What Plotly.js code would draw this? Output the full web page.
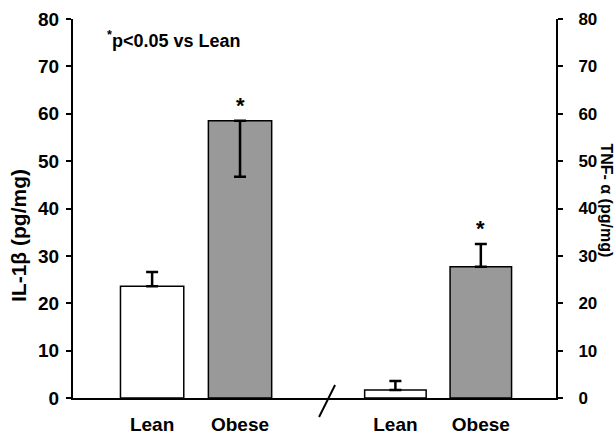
<!DOCTYPE html>
<html><head><meta charset="utf-8">
<script src="https://cdn.plot.ly/plotly-3.0.1.min.js"></script>
<style>body{margin:0;background:#fff}</style></head>
<body><div id="chart" style="width:616px;height:437px"></div>
<script>
const categories = ["Lean", "Obese"];
const il1bValues = [23.6, 58.5];
const il1bErrPlus = [3.0, 0];
const il1bErrMinus = [0, 11.8];
const tnfValues = [1.7, 27.7];
const tnfErrPlus = [1.9, 4.8];
const tnfErrMinus = [0, 0];
const significant = [false, true];
const barColors = ["#ffffff", "#999999"];
const yTickVals = [0, 10, 20, 30, 40, 50, 60, 70, 80];
const noteText = "<sup>*</sup>p&lt;0.05 vs Lean";
const leftTitle = "IL-1β (pg/mg)";
const rightTitle = "TNF- α (pg/mg)";

const FONT = "Liberation Sans, Arial, sans-serif";
const bold = (size) => ({family: FONT, size: size, color: "#000", weight: 700});

function barTrace(vals, plus, minus, xa, ya) {
  return {
    type: "bar", x: categories, y: vals, xaxis: xa, yaxis: ya, width: 0.72,
    marker: {color: barColors, line: {color: "#000", width: 1.5}},
    error_y: {type: "data", symmetric: false, array: plus, arrayminus: minus,
      color: "#000", thickness: 2.5, width: 6},
    hoverinfo: "skip", showlegend: false
  };
}

const data = [
  barTrace(il1bValues, il1bErrPlus, il1bErrMinus, "x", "y"),
  barTrace(tnfValues, tnfErrPlus, tnfErrMinus, "x2", "y2")
];

const annotations = [];
function addStars(vals, plus, xr, yr) {
  categories.forEach((c, i) => {
    if (significant[i]) annotations.push({
      x: c, y: vals[i] + plus[i], xref: xr, yref: yr, text: "*", showarrow: false,
      yanchor: "bottom", yshift: 1, font: bold(22)
    });
  });
}
addStars(il1bValues, il1bErrPlus, "x", "y");
addStars(tnfValues, tnfErrPlus, "x2", "y2");
annotations.push({x: 0.066, y: 0.945, xref: "paper", yref: "paper", xanchor: "left", yanchor: "middle",
  text: noteText, showarrow: false, font: bold(18)});
annotations.push({x: -0.114, y: 0.43, xref: "paper", yref: "paper", xanchor: "center", yanchor: "middle",
  text: leftTitle, textangle: -90, showarrow: false, font: bold(21)});
annotations.push({x: 1.105, y: 0.522, xref: "paper", yref: "paper", xanchor: "center", yanchor: "middle",
  text: rightTitle, textangle: 90, showarrow: false, font: bold(16)});

const split = 0.526;
const yAxisBase = {range: [0, 80], tickvals: yTickVals, ticks: "outside", ticklen: 5, tickwidth: 2,
  tickcolor: "#000", showline: true, linewidth: 2, linecolor: "#000", showgrid: false, zeroline: false,
  fixedrange: true};
const xAxisBase = {type: "category", showline: true, linewidth: 2, linecolor: "#000", ticks: "",
  showgrid: false, zeroline: false, tickfont: bold(19), ticklabelstandoff: 8, fixedrange: true};

const layout = {
  width: 616, height: 437, margin: {l: 73, r: 60, t: 19, b: 39},
  paper_bgcolor: "#fff", plot_bgcolor: "#fff",
  xaxis: Object.assign({}, xAxisBase, {domain: [0, split], range: [-0.9, 1.99], anchor: "y"}),
  xaxis2: Object.assign({}, xAxisBase, {domain: [split, 1], range: [-0.8, 1.88], anchor: "y2"}),
  yaxis: Object.assign({}, yAxisBase, {anchor: "x", side: "left", ticklabelstandoff: 3, tickfont: bold(19)}),
  yaxis2: Object.assign({}, yAxisBase, {anchor: "x2", side: "right", ticklabelstandoff: 12, tickfont: bold(17)}),
  annotations: annotations,
  shapes: [{type: "line", xref: "paper", yref: "paper", xsizemode: "pixel", ysizemode: "pixel",
    xanchor: split, yanchor: 0, x0: -8, x1: 8, y0: -19, y1: 13, line: {color: "#000", width: 2}}]
};

Plotly.newPlot("chart", data, layout, {staticPlot: true, displayModeBar: false});
</script></body></html>
